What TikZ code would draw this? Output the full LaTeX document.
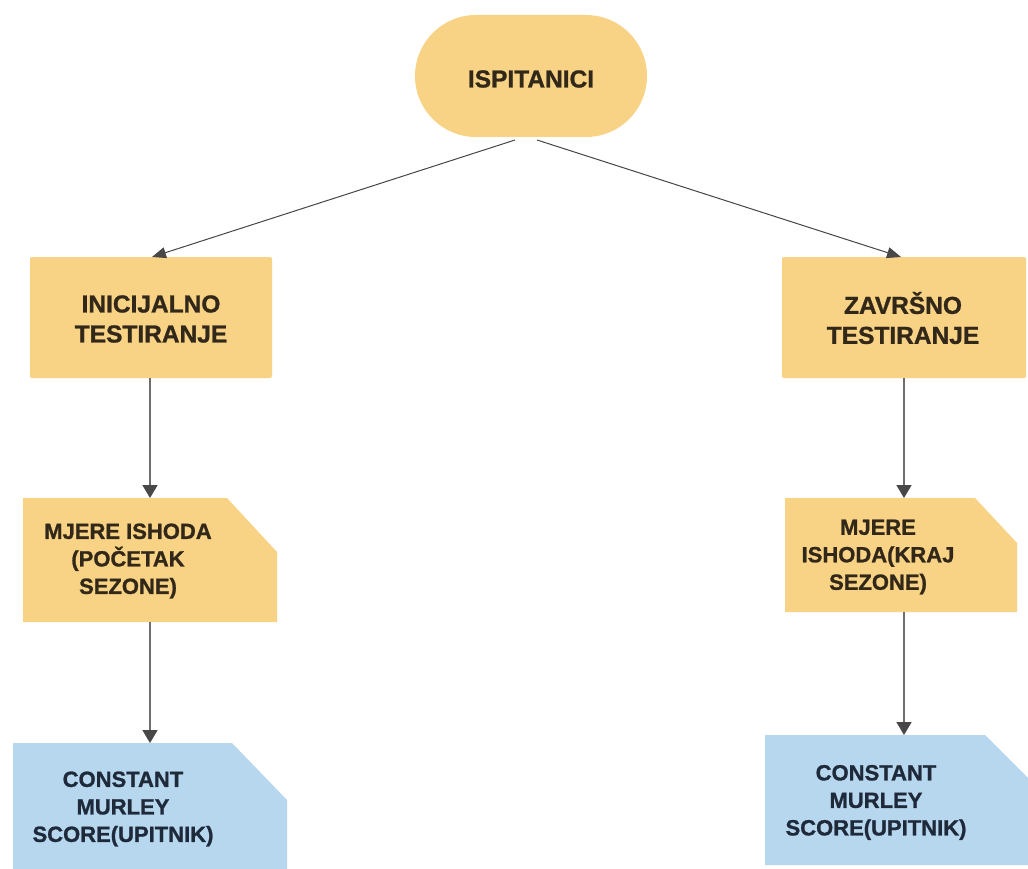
\documentclass[tikz,border=0pt]{standalone}
\usepackage{fontspec}
\setmainfont{Liberation Sans}[BoldFeatures={FakeBold=1.1}]
\usetikzlibrary{arrows.meta}
\definecolor{orng}{RGB}{249,211,133}
\definecolor{blu}{RGB}{183,215,239}
\definecolor{txtb}{RGB}{50,40,26}
\definecolor{txtn}{RGB}{30,42,58}
\definecolor{diagc}{RGB}{70,70,70}
\definecolor{vertc}{RGB}{110,110,110}
\definecolor{headc}{RGB}{72,72,72}
\begin{document}
\begin{tikzpicture}[x=1pt,y=-1pt,
  frame/.style={inner sep=0pt,outer sep=0pt,draw=none},
  biglbl/.style={font=\bfseries\fontsize{24.5}{30}\selectfont,align=center,inner sep=0pt},
  lbl/.style={font=\bfseries\fontsize{22}{27.5}\selectfont,align=center,inner sep=0pt},
  diagarr/.style={draw=diagc,line width=1pt,-{Triangle[length=14pt,width=11pt,color=headc]}},
  vertarr/.style={draw=vertc,line width=1.8pt,-{Triangle[length=13pt,width=15pt,color=headc]}}]
\clip (0,0) rectangle (1028,869);
\fill[white] (0,0) rectangle (1028,869);

% top stadium
\node[frame,fill=orng,rounded corners=61pt,minimum width=232pt,minimum height=122pt] (isp) at (531,76) {};
\node[biglbl,text=txtb] (ispt) at (531,79) {ISPITANICI};

% testing boxes
\node[frame,fill=orng,rounded corners=2pt,minimum width=242pt,minimum height=121pt] (ini) at (151,317.5) {};
\node[biglbl,text=txtb] (init) at (151,319) {INICIJALNO\\TESTIRANJE};
\node[frame,fill=orng,rounded corners=2pt,minimum width=244pt,minimum height=121pt] (zav) at (904,317.5) {};
\node[biglbl,text=txtb] (zavt) at (903,318) {ZAVRŠNO\\TESTIRANJE};

% outcome cards
\node[frame,minimum width=254pt,minimum height=124pt] (mjl) at (150,560) {};
\fill[orng] (mjl.north west) -- ([xshift=-50pt]mjl.north east) -- ([yshift=-54pt]mjl.north east) -- (mjl.south east) -- (mjl.south west) -- cycle;
\node[lbl,text=txtb] (mjlt) at (128,561) {MJERE ISHODA\\(POČETAK\\SEZONE)};

\node[frame,minimum width=232pt,minimum height=114pt] (mjr) at (901,555) {};
\fill[orng] (mjr.north west) -- ([xshift=-42pt]mjr.north east) -- ([yshift=-45pt]mjr.north east) -- (mjr.south east) -- (mjr.south west) -- cycle;
\node[lbl,text=txtb] (mjrt) at (878,557) {MJERE\\ISHODA(KRAJ\\SEZONE)};

% score cards
\node[frame,minimum width=274pt,minimum height=137pt] (cml) at (150,811.5) {};
\fill[blu] (cml.north west) -- ([xshift=-55pt]cml.north east) -- ([yshift=-57pt]cml.north east) -- (cml.south east) -- (cml.south west) -- cycle;
\node[lbl,text=txtn] (cmlt) at (123,809) {CONSTANT\\MURLEY\\SCORE(UPITNIK)};

\node[frame,minimum width=275pt,minimum height=130pt] (cmr) at (902.5,800) {};
\fill[blu] (cmr.north west) -- ([xshift=-55pt]cmr.north east) -- ([yshift=-55pt]cmr.north east) -- (cmr.south east) -- (cmr.south west) -- cycle;
\node[lbl,text=txtn] (cmrt) at (876,802.5) {CONSTANT\\MURLEY\\SCORE(UPITNIK)};

% connectors
\draw[diagarr] ([xshift=-16pt,yshift=-3pt]isp.south) -- ([xshift=1pt]ini.north);
\draw[diagarr] ([xshift=6pt,yshift=-3pt]isp.south) -- ([xshift=-3pt]zav.north);
\draw[vertarr] ([xshift=-1pt]ini.south) -- ([xshift=-1pt]ini.south |- mjl.north);
\draw[vertarr] (zav.south) -- (zav.south |- mjr.north);
\draw[vertarr] (mjl.south) -- (mjl.south |- cml.north);
\draw[vertarr] (zav.south |- mjr.south) -- (zav.south |- cmr.north);
\end{tikzpicture}
\end{document}
